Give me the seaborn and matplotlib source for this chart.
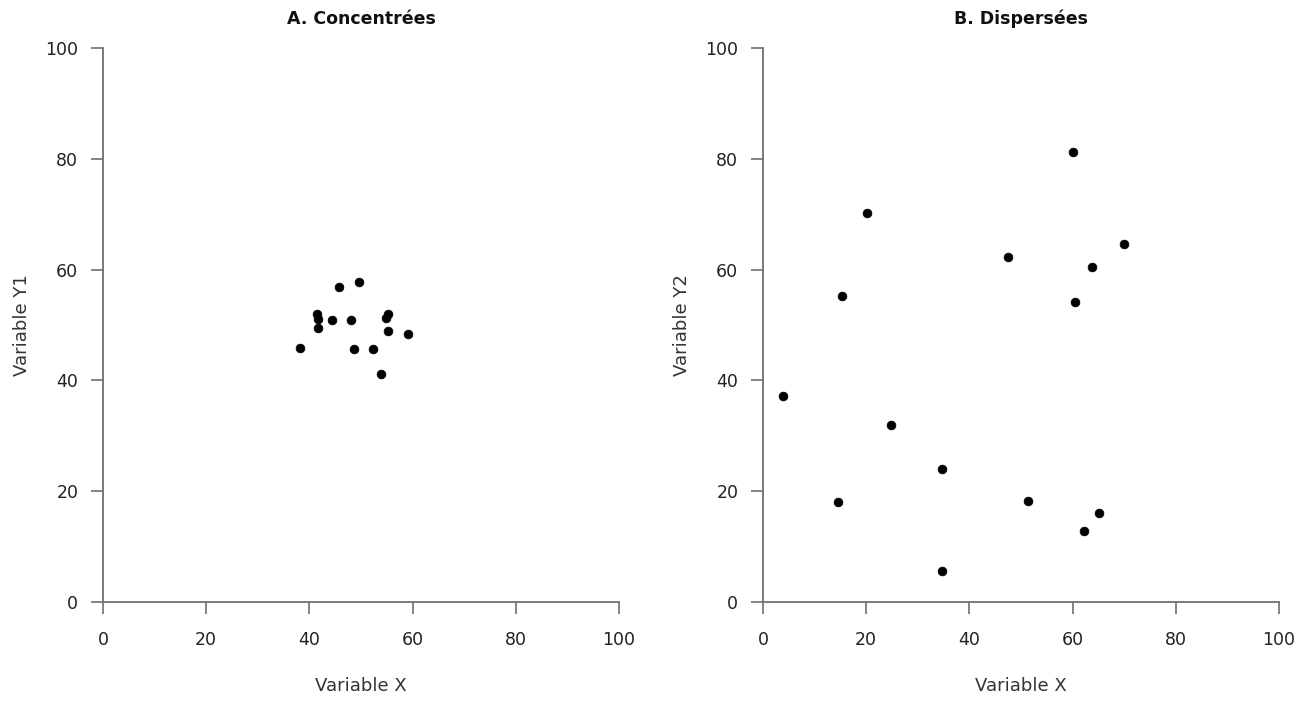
import matplotlib
matplotlib.use("Agg")
import matplotlib.pyplot as plt
import seaborn as sns
import pandas as pd

# Panel A: concentrated observations
conc_x = [38.2, 41.5, 41.7, 41.7, 44.4, 45.7, 48.1, 48.6, 49.6, 52.3, 53.9, 54.8, 55.2, 55.2, 59.1]
conc_y = [45.8, 52.0, 51.0, 49.5, 50.9, 56.9, 50.9, 45.6, 57.7, 45.7, 41.2, 51.3, 51.9, 48.9, 48.4]

# Panel B: dispersed observations
disp_x = [60.0, 20.1, 15.3, 47.4, 70.0, 63.7, 60.5, 3.8, 24.9, 34.7, 14.6, 51.4, 65.2, 62.3, 34.6]
disp_y = [81.3, 70.2, 55.2, 62.3, 64.6, 60.5, 54.2, 37.1, 32.0, 24.0, 18.1, 18.3, 16.1, 12.9, 5.6]

panels = [
    ("A. Concentrées", "Variable Y1", pd.DataFrame({"x": conc_x, "y": conc_y})),
    ("B. Dispersées", "Variable Y2", pd.DataFrame({"x": disp_x, "y": disp_y})),
]
ticks = [0, 20, 40, 60, 80, 100]

sns.set_style("white")
plt.rcParams["font.family"] = ["DejaVu Sans"]

fig = plt.figure(figsize=(13.11, 7.02), dpi=100)
lefts = [103 / 1311, 763 / 1311]
for (title, ylabel, df), left in zip(panels, lefts):
    ax = fig.add_axes([left, 1 - 602 / 702, 516 / 1311, 554 / 702])
    sns.scatterplot(data=df, x="x", y="y", ax=ax, color="black", s=40,
                    marker="o", edgecolor="black", linewidth=0.5, clip_on=False)
    ax.set_xlim(0, 100)
    ax.set_ylim(0, 100)
    ax.set_xticks(ticks)
    ax.set_yticks(ticks)
    ax.tick_params(axis="both", which="major", bottom=True, left=True,
                   direction="out", length=8.8, width=1.2,
                   color="#6f6f6f", labelsize=12.5, labelcolor="#222222")
    ax.tick_params(axis="x", pad=12)
    ax.tick_params(axis="y", pad=9)
    for side in ("top", "right"):
        ax.spines[side].set_visible(False)
    for side in ("left", "bottom"):
        ax.spines[side].set_color("#6f6f6f")
        ax.spines[side].set_linewidth(1.3)
    ax.set_title(title, fontsize=12.5, fontweight="bold", color="#111111", pad=17)
    ax.set_xlabel("Variable X", fontsize=13, color="#333333", labelpad=20)
    ax.set_ylabel(ylabel, fontsize=13, color="#333333", labelpad=10)

fig.savefig("out.png", dpi=100, facecolor="white")
